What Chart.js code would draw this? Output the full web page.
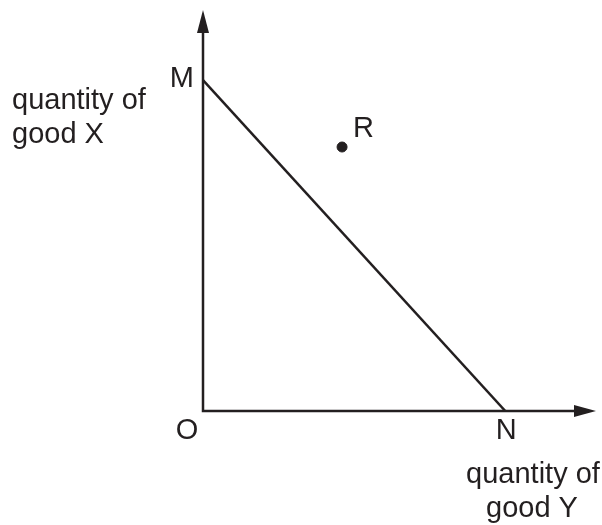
<!DOCTYPE html>
<html>
<head>
<meta charset="utf-8">
<script src="https://cdn.jsdelivr.net/npm/chart.js@4.4.0/dist/chart.umd.min.js"></script>
<style>
body { margin: 0; background: #fff; }
canvas { display: block; }
</style>
</head>
<body>
<canvas id="grafica" width="602" height="525"></canvas>
<script>
// points of the budget line and the bundle R
var lineaMN = [{x: 0, y: 99}, {x: 100, y: 0}];
var puntoR = [{x: 46, y: 79}];
var etiquetasPuntos = ["M", "N", "R", "O"];
var tituloY = ["quantity of", "good X"];
var tituloX = ["quantity of", "good Y"];
var limiteX = 130;
var limiteY = 120;

var fuente = "29px 'Liberation Sans', Arial, sans-serif";

var pluginEjes = {
    id: "ejes",
    beforeDatasetsDraw: function (chart) {
        var ctx = chart.ctx;
        var sx = chart.scales.x;
        var sy = chart.scales.y;
        var x0 = sx.getPixelForValue(0);
        var y0 = sy.getPixelForValue(0);
        var xFin = sx.getPixelForValue(limiteX);
        var yFin = sy.getPixelForValue(limiteY);
        ctx.save();
        ctx.strokeStyle = "#231f20";
        ctx.fillStyle = "#231f20";
        ctx.lineWidth = 2.5;
        ctx.beginPath();
        ctx.moveTo(x0, yFin + 20);
        ctx.lineTo(x0, y0);
        ctx.lineTo(xFin - 18, y0);
        ctx.stroke();
        // arrow heads
        ctx.beginPath();
        ctx.moveTo(x0, yFin);
        ctx.lineTo(x0 - 6, yFin + 23);
        ctx.lineTo(x0 + 6, yFin + 23);
        ctx.closePath();
        ctx.fill();
        ctx.beginPath();
        ctx.moveTo(xFin, y0);
        ctx.lineTo(xFin - 22, y0 - 6);
        ctx.lineTo(xFin - 22, y0 + 6);
        ctx.closePath();
        ctx.fill();
        ctx.restore();
    },
    afterDatasetsDraw: function (chart) {
        var ctx = chart.ctx;
        var sx = chart.scales.x;
        var sy = chart.scales.y;
        ctx.save();
        ctx.fillStyle = "#231f20";
        ctx.font = fuente;
        ctx.textBaseline = "alphabetic";
        // M
        ctx.textAlign = "right";
        ctx.fillText(etiquetasPuntos[0], sx.getPixelForValue(lineaMN[0].x) - 9, sy.getPixelForValue(lineaMN[0].y) + 7);
        // N
        ctx.textAlign = "center";
        ctx.fillText(etiquetasPuntos[1], sx.getPixelForValue(lineaMN[1].x) + 1, sy.getPixelForValue(lineaMN[1].y) + 28);
        // R
        ctx.textAlign = "left";
        ctx.fillText(etiquetasPuntos[2], sx.getPixelForValue(puntoR[0].x) + 11, sy.getPixelForValue(puntoR[0].y) - 10);
        // O
        ctx.textAlign = "center";
        ctx.fillText(etiquetasPuntos[3], sx.getPixelForValue(0) - 16, sy.getPixelForValue(0) + 28);
        // axis titles
        ctx.textAlign = "left";
        ctx.fillText(tituloY[0], 12, 109);
        ctx.fillText(tituloY[1], 12, 143);
        ctx.textAlign = "center";
        ctx.fillText(tituloX[0], 533, 483);
        ctx.fillText(tituloX[1], 532, 517);
        ctx.restore();
    }
};

var datosGrafica = {
    datasets: [
        {
            label: "MN",
            data: lineaMN,
            showLine: true,
            borderColor: "#231f20",
            borderWidth: 2.5,
            pointRadius: 0
        },
        {
            label: "R",
            data: puntoR,
            showLine: false,
            backgroundColor: "#231f20",
            borderColor: "#231f20",
            pointRadius: 5
        }
    ]
};

var miGrafica = new Chart(document.getElementById("grafica"), {
    type: "scatter",
    data: datosGrafica,
    options: {
        responsive: false,
        animation: false,
        layout: { padding: { left: 203, right: 4, top: 10, bottom: 114 } },
        plugins: { legend: { display: false }, tooltip: { enabled: false } },
        scales: {
            x: { type: "linear", min: 0, max: limiteX, display: false },
            y: { type: "linear", min: 0, max: limiteY, display: false }
        }
    },
    plugins: [pluginEjes]
});
</script>
</body>
</html>
